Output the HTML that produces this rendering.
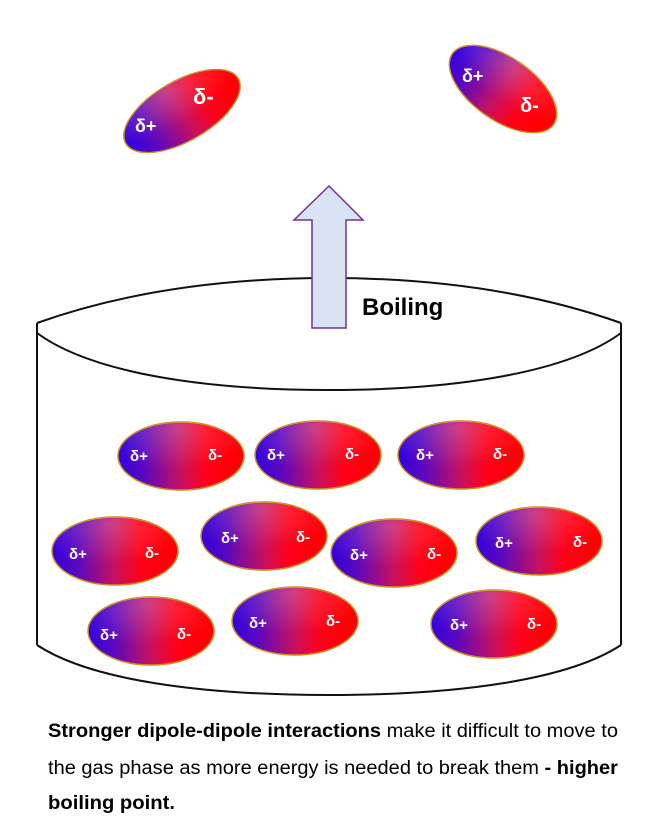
<!DOCTYPE html>
<html><head><meta charset="utf-8"><style>
html,body{margin:0;padding:0;background:#fff}
svg{display:block}
</style></head><body>
<svg width="658" height="840" viewBox="0 0 658 840" xmlns="http://www.w3.org/2000/svg">
<defs>
<linearGradient id="g" x1="0" y1="0" x2="1" y2="0">
<stop offset="0" stop-color="#3000e0"/>
<stop offset="0.2" stop-color="#5a08c0"/>
<stop offset="0.5" stop-color="#c81060"/>
<stop offset="0.7" stop-color="#ff0018"/>
<stop offset="1" stop-color="#ff0000"/>
</linearGradient>
<radialGradient id="h" cx="0.45" cy="0.1" r="0.6">
<stop offset="0" stop-color="#ffffff" stop-opacity="0.2"/>
<stop offset="1" stop-color="#ffffff" stop-opacity="0"/>
</radialGradient>
<g id="m">
<ellipse cx="0" cy="0" rx="63" ry="34" fill="url(#g)" stroke="#c89020" stroke-width="1.5"/>
<ellipse cx="0" cy="0" rx="63" ry="34" fill="url(#h)"/>
</g>
</defs>

<!-- beaker -->
<g fill="none" stroke="#111" stroke-width="2">
<path d="M37,323 C130,290 230,278 329,278 C428,278 528,290 621,323"/>
<path d="M37,333 C90,372 200,390 329,390 C458,390 568,372 621,333"/>
<path d="M37,323 L37,645"/>
<path d="M621,323 L621,645"/>
<path d="M37,645 C90,680 200,695 329,695 C458,695 568,680 621,645"/>
</g>

<!-- arrow -->
<path d="M312,328 L312,220 L294,220 L329,186 L363,220 L346,220 L346,328 Z" fill="#dae3f3" stroke="#7030a0" stroke-width="1.5"/>
<text x="362" y="315" font-family="Liberation Sans, sans-serif" font-weight="bold" font-size="24" fill="#000">Boiling</text>

<!-- gas molecules -->
<g transform="translate(182,111) rotate(-30)"><use href="#m" transform="scale(1.03,0.88)"/></g>
<text x="135" y="132" font-family="Liberation Sans, sans-serif" font-weight="bold" font-size="18" fill="#fff">δ+</text>
<text x="193" y="104" font-family="Liberation Sans, sans-serif" font-weight="bold" font-size="22" fill="#fff">δ-</text>
<g transform="translate(503,89) rotate(35)"><use href="#m" transform="scale(0.98,0.92)"/></g>
<text x="462" y="82" font-family="Liberation Sans, sans-serif" font-weight="bold" font-size="18" fill="#fff">δ+</text>
<text x="520" y="112" font-family="Liberation Sans, sans-serif" font-weight="bold" font-size="20" fill="#fff">δ-</text>

<!-- liquid molecules -->
<g font-family="Liberation Sans, sans-serif" font-weight="bold" font-size="15" fill="#fff">
<use href="#m" x="181" y="456"/><text x="130" y="461">δ+</text><text x="208" y="460">δ-</text>
<use href="#m" x="318" y="455"/><text x="267" y="460">δ+</text><text x="345" y="459">δ-</text>
<use href="#m" x="461" y="455"/><text x="416" y="460">δ+</text><text x="493" y="459">δ-</text>
<use href="#m" x="115" y="551"/><text x="69" y="559">δ+</text><text x="145" y="558">δ-</text>
<use href="#m" x="264" y="536"/><text x="221" y="543">δ+</text><text x="296" y="542">δ-</text>
<use href="#m" x="394" y="553"/><text x="350" y="560">δ+</text><text x="427" y="559">δ-</text>
<use href="#m" x="539" y="541"/><text x="495" y="548">δ+</text><text x="573" y="547">δ-</text>
<use href="#m" x="151" y="631"/><text x="100" y="640">δ+</text><text x="177" y="639">δ-</text>
<use href="#m" x="295" y="621"/><text x="249" y="628">δ+</text><text x="326" y="626">δ-</text>
<use href="#m" x="494" y="624"/><text x="450" y="630">δ+</text><text x="527" y="629">δ-</text>
</g>

<!-- caption -->
<g font-family="Liberation Sans, sans-serif" font-size="19" fill="#000">
<text x="48" y="737" textLength="570" lengthAdjust="spacingAndGlyphs"><tspan font-weight="bold">Stronger dipole-dipole interactions</tspan> make it difficult to move to</text>
<text x="48" y="774" textLength="570" lengthAdjust="spacingAndGlyphs">the gas phase as more energy is needed to break them <tspan font-weight="bold">- higher</tspan></text>
<text x="48" y="809" textLength="127" lengthAdjust="spacingAndGlyphs" font-weight="bold">boiling point.</text>
</g>
</svg>
</body></html>
